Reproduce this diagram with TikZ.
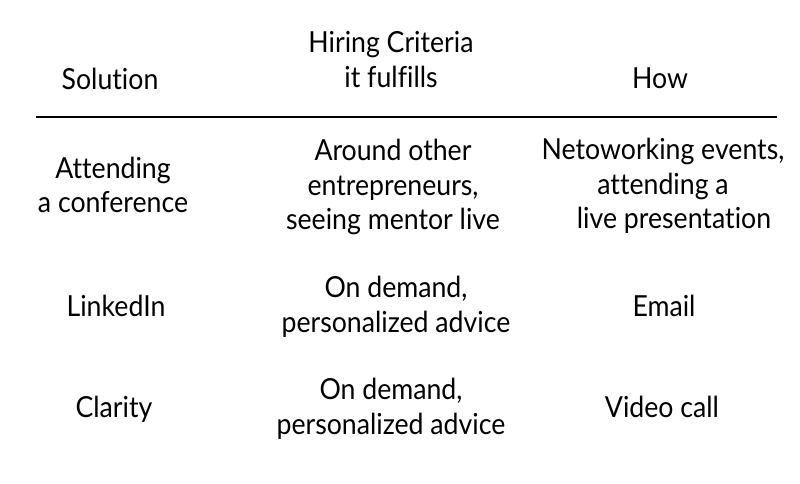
\documentclass[tikz,border=0pt]{standalone}
\usepackage{fontspec}
\setmainfont{Lato}[FakeStretch=0.92, Ligatures=NoCommon]
\begin{document}
\begin{tikzpicture}[x=1pt, y=-1pt,
        cell/.style={align=center, inner sep=0pt, font=\fontsize{29}{34.5}\selectfont}]
            \useasboundingbox (0, 0) rectangle (800, 484);
            % header
            \node[cell] (sol) at (110, 78.5) {Solution};
            \node[cell] (crit) at (391, 59.5) {Hiring Criteria\\it fulfills};
            \node[cell] (how) at (660, 78.5) {How};
            \draw[line width=1.3pt] (36, 117) -- (777, 117);
            % rows
            \node[cell] (conf) at (113, 185) {Attending\\a conference};
            \node[cell] (confcrit) at (393, 187) {Around other\\entrepreneurs,\\seeing mentor live};
            \node[cell] (confhow) at (663, 186) {Netoworking events,\\attending a~\\\hspace*{22pt}live presentation};
            \node[cell] (linkedin) at (116, 306) {LinkedIn};
            \node[cell] (linkedincrit) at (396, 307) {On demand,\\personalized advice};
            \node[cell] (linkedinhow) at (664, 306) {Email};
            \node[cell] (clarity) at (114, 409) {Clarity};
            \node[cell] (claritycrit) at (391, 409) {On demand,\\personalized advice};
            \node[cell] (clarityhow) at (662, 407) {Video call};
        \end{tikzpicture}
\end{document}
